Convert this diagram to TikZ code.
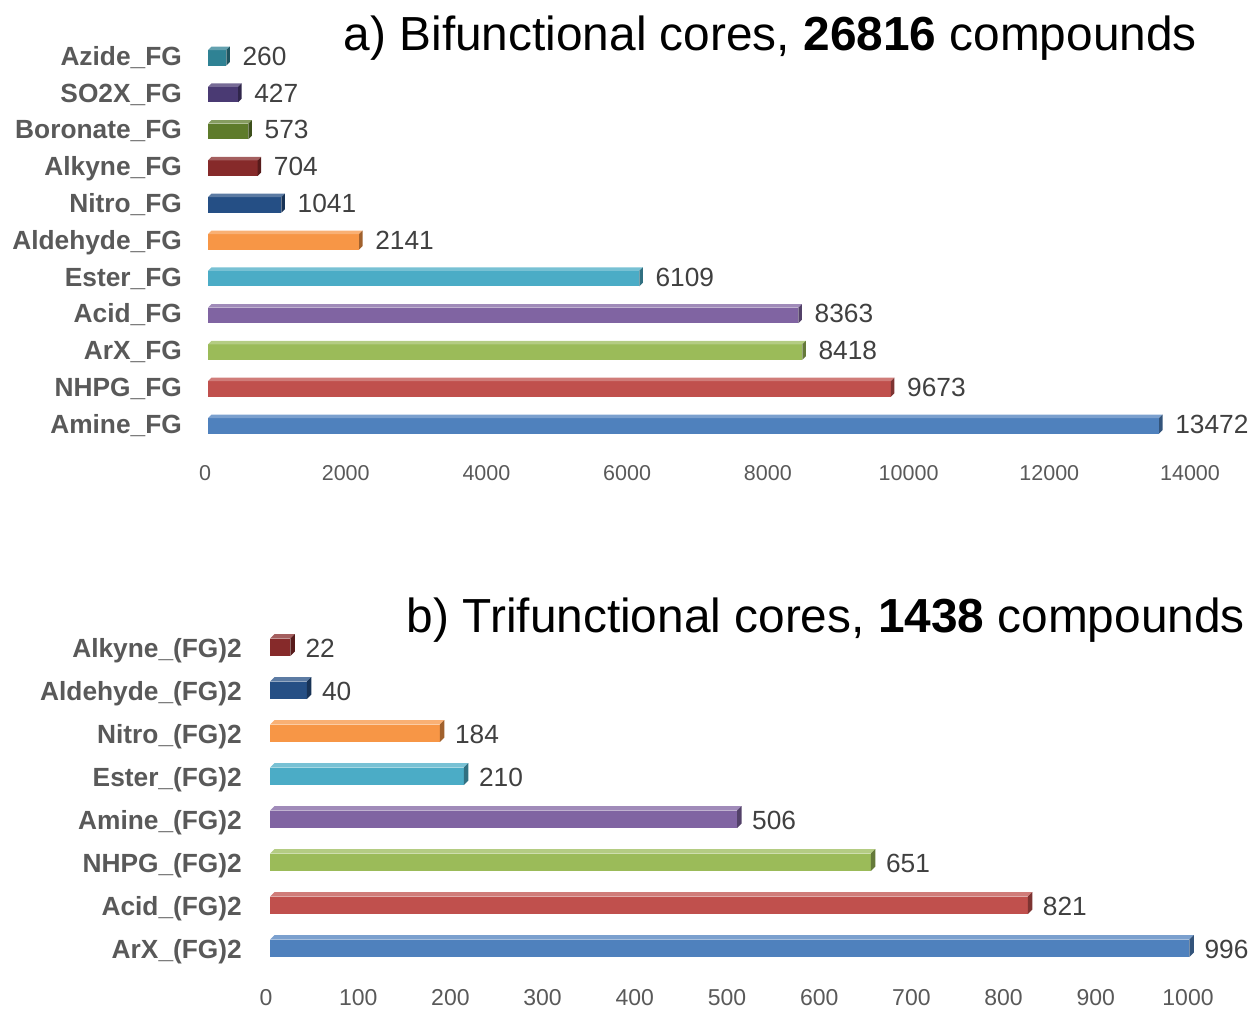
\documentclass[tikz,border=0pt]{standalone}
\usepackage{fontspec}
\setmainfont{Liberation Sans}

\definecolor{labelgray}{HTML}{595959}
\definecolor{valgray}{HTML}{404040}
\definecolor{azideC}{HTML}{2F8294}
\definecolor{sotwoxC}{HTML}{4A3A73}
\definecolor{boronC}{HTML}{5E7B2B}
\definecolor{alkyneC}{HTML}{862A2A}
\definecolor{nitroC}{HTML}{254F85}
\definecolor{orangeC}{HTML}{F79646}
\definecolor{cyanC}{HTML}{4BACC6}
\definecolor{purpleC}{HTML}{8064A2}
\definecolor{greenC}{HTML}{9BBB59}
\definecolor{redC}{HTML}{C0504D}
\definecolor{blueC}{HTML}{4F81BD}

\tikzset{
  catlabel/.style={font=\fontsize{26.3}{30}\selectfont\bfseries, text=labelgray, inner sep=0pt, anchor=base east},
  vallabel/.style={font=\fontsize{26.3}{30}\selectfont, text=valgray, inner sep=0pt, anchor=base west},
  ticklabel/.style={text=labelgray, inner sep=0pt, anchor=base},
  charttitle/.style={font=\fontsize{47.8}{56}\selectfont, inner sep=0pt, anchor=base east},
}

% one 3d bar: x start, x end, y centre, half height, depth, colour
\newcommand{\fgbar}[6]{%
  \fill[#6] (#1,#3-#4+#5) rectangle (#2,#3+#4);
  \fill[#6!75!white] (#1,#3-#4+#5) -- (#1+#5,#3-#4) -- (#2+#5,#3-#4) -- (#2,#3-#4+#5) -- cycle;
  \fill[#6!65!black] (#2,#3-#4+#5) -- (#2+#5,#3-#4) -- (#2+#5,#3+#4-#5) -- (#2,#3+#4) -- cycle;
}

\begin{document}
\begin{tikzpicture}[x=1pt, y=-1pt]
	\useasboundingbox (0,0) rectangle (1251,1009);

	% the titles
	\node[charttitle] (titlea) at (1197,50) {a) Bifunctional cores, \textbf{26816} compounds};
	\node[charttitle] (titleb) at (1245,632) {b) Trifunctional cores, \textbf{1438} compounds};

	% the bifunctional bars
	\foreach \name/\val/\col [count=\i] in {Azide/260/azideC, SO2X/427/sotwoxC, Boronate/573/boronC, Alkyne/704/alkyneC, Nitro/1041/nitroC, Aldehyde/2141/orangeC, Ester/6109/cyanC, Acid/8363/purpleC, ArX/8418/greenC, NHPG/9673/redC, Amine/13472/blueC}{
		\pgfmathsetmacro{\yc}{56+36.8*(\i-1)}
		\pgfmathsetmacro{\xe}{208+0.0706*\val}
		\fgbar{208}{\xe}{\yc}{9.5}{3.5}{\col}
		\node[catlabel] (a-cat-\i) at (182,\yc+9.3) {\name\_FG};
		\node[vallabel] (a-val-\i) at (\xe+16,\yc+9.3) {\val};
	}

	% the bifunctional axis
	\foreach \v in {0,2000,...,14000}
		\node[ticklabel, font=\fontsize{21.5}{26}\selectfont] (a-tick-\v) at (205+0.07036*\v,480) {\v};

	% the trifunctional bars
	\foreach \name/\val/\col [count=\i] in {Alkyne/22/alkyneC, Aldehyde/40/nitroC, Nitro/184/orangeC, Ester/210/cyanC, Amine/506/purpleC, NHPG/651/greenC, Acid/821/redC, ArX/996/blueC}{
		\pgfmathsetmacro{\yc}{645+43*(\i-1)}
		\pgfmathsetmacro{\xe}{270+0.923*\val}
		\fgbar{270}{\xe}{\yc}{11}{4.5}{\col}
		\node[catlabel] (b-cat-\i) at (242,\yc+12) {\name\_(FG)2};
		\node[vallabel] (b-val-\i) at (\xe+15,\yc+12) {\val};
	}

	% the trifunctional axis
	\foreach \v in {0,100,...,1000}
		\node[ticklabel, font=\fontsize{23}{27}\selectfont] (b-tick-\v) at (266+0.922*\v,1005.5) {\v};

\end{tikzpicture}
\end{document}
